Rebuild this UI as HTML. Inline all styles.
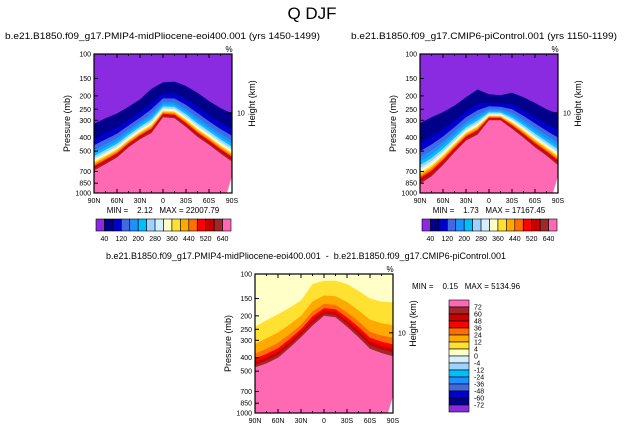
<!DOCTYPE html>
<html><head><meta charset="utf-8"><style>
body{margin:0;background:#fff;}
svg text{font-family:"Liberation Sans",sans-serif;fill:#000;white-space:pre;}
</style></head><body>
<svg id="c" width="624" height="430" viewBox="0 0 624 430" xmlns="http://www.w3.org/2000/svg">
<text x="312" y="19" font-size="17" text-anchor="middle">Q DJF</text>
</svg>
<script>
// ---- data ----
const lats = [90,75,60,45,30,15,0,-15,-30,-45,-60,-75,-90];
const latTicks = ["90N","60N","30N","0","30S","60S","90S"];
const latTickVals = [90,60,30,0,-30,-60,-90];
const presTicks = [100,150,200,250,300,400,500,700,850,1000];
// Panel A (midPliocene)
const topA = [318,290,268,240,212,178,160,158,170,190,218,245,268];
const botA = [690,620,555,470,410,370,285,290,335,395,450,520,595];
// Panel B (piControl)
const topB = [315,285,262,235,205,180,195,198,190,205,225,250,270];
const botB = [860,760,630,510,420,380,300,300,345,400,470,540,630];
// Panel C (difference)
const topC = [240,215,195,175,155,118,112,112,118,132,150,158,160];
const botC = [470,440,400,340,285,235,200,205,240,285,345,370,390];
const fracAB = [0,0.32,0.46,0.56,0.63,0.69,0.74,0.78,0.81,0.84,0.87,0.90,0.93,0.96,1.0];
const fracC = [0,0.42,0.66,0.78,0.86,0.93,1.0];
const colorsAB = ["#8A2BE2","#00008B","#0000CD","#4169E1","#1E90FF","#00BFFF","#A0D2FF","#D2F0FF","#FFFFC8","#FFE132","#FFAA00","#FF6E00","#FF0000","#C80000","#A02828","#FF69B4"];
const labelsAB = ["40","120","200","280","360","440","520","640"];
const colorsC = ["#FFFFC8","#FFE132","#FFAA00","#FF6E00","#FF0000","#C80000","#A02828","#FF69B4"];
const labelsC = ["72","60","48","36","24","12","4","0","-4","-12","-24","-36","-48","-60","-72"];
const colorsCbar = ["#FF69B4","#A02828","#C80000","#FF0000","#FF6E00","#FFAA00","#FFE132","#FFFFC8","#D2F0FF","#A0D2FF","#00BFFF","#1E90FF","#4169E1","#0000CD","#00008B","#8A2BE2"];

const NS="http://www.w3.org/2000/svg";
const svg=document.getElementById('c');
function mk(t,a,p){const e=document.createElementNS(NS,t);for(const k in a)e.setAttribute(k,a[k]);(p||svg).appendChild(e);return e;}

function panel(x0,y0,w,h,top,bot,frac,colors,name,title,tx1,tx2){
  const g=mk('g',{});
  
  
  const X=l=>x0+(90-l)/180*w;
  const Y=p=>y0+Math.log10(p/100)*h;
  mk('rect',{x:x0,y:y0,width:w,height:h,fill:colors[colors.length-1]},g);
  for(let k=frac.length-1;k>=0;k--){
    let d=`M${x0},${y0}`;
    lats.forEach((l,i)=>{
      const lp=Math.log(top[i])+frac[k]*(Math.log(bot[i])-Math.log(top[i]));
      d+=` L${X(l).toFixed(1)},${Y(Math.exp(lp)).toFixed(1)}`;
    });
    d+=` L${x0+w},${y0} Z`;
    const p=mk('path',{d:d,fill:colors[k]},g);
    
    
  }
  mk('path',{d:`M${x0+w-5},${y0+h} L${x0+w},${y0+h-17} L${x0+w},${y0+h} Z`,fill:'#fff'},g);
  mk('rect',{x:x0,y:y0,width:w,height:h,fill:'none',stroke:'#000','stroke-width':1.2},g);
  presTicks.forEach(p=>{
    const y=Y(p);
    mk('line',{x1:x0,x2:x0+4,y1:y,y2:y,stroke:'#000'},g);
    const t=mk('text',{x:x0-3,y:y+2.5,'font-size':7,'text-anchor':'end'},g);t.textContent=p;
  });
  latTickVals.forEach((l,i)=>{
    const x=X(l);
    mk('line',{x1:x,x2:x,y1:y0+h,y2:y0+h-4,stroke:'#000'},g);
    mk('line',{x1:x,x2:x,y1:y0,y2:y0+4,stroke:'#000'},g);
    const t=mk('text',{x:x,y:y0+h+10,'font-size':7,'text-anchor':'middle'},g);t.textContent=latTicks[i];
  });
  for(let l=75;l>-90;l-=15){const x=X(l);mk('line',{x1:x,x2:x,y1:y0,y2:y0+2,stroke:'#000'},g);mk('line',{x1:x,x2:x,y1:y0+h,y2:y0+h-2,stroke:'#000'},g);}
  const yh=Y(265);
  mk('line',{x1:x0+w,x2:x0+w-4,y1:yh,y2:yh,stroke:'#000'},g);
  let t=mk('text',{x:x0+w+5,y:yh+2.5,'font-size':7},g);t.textContent='10';
  t=mk('text',{x:x0+w-3,y:y0-2,'font-size':8,'text-anchor':'middle'},g);t.textContent='%';
  t=mk('text',{'font-size':9,'text-anchor':'middle',transform:`translate(${x0-24},${y0+h/2}) rotate(-90)`},g);t.textContent='Pressure (mb)';
  t=mk('text',{'font-size':9,'text-anchor':'middle',transform:`translate(${x0+w+23},${y0+h/2-20}) rotate(-90)`},g);t.textContent='Height (km)';
  t=mk('text',{x:tx1,y:y0-15,'font-size':9,textLength:tx2-tx1,lengthAdjust:'spacingAndGlyphs'},g);t.textContent=title;
  
  
  return {g,X,Y};
}

function hbar(x0,y0,name){
  const g=mk('g',{});
  
  
  const bw=135/colorsAB.length;
  colorsAB.forEach((c,i)=>mk('rect',{x:x0+i*bw,y:y0,width:bw,height:12,fill:c,stroke:'#000','stroke-width':0.6},g));
  labelsAB.forEach((s,i)=>{const t=mk('text',{x:x0+bw*(2*i+1),y:y0+22,'font-size':7,'text-anchor':'middle'},g);t.textContent=s;});
}

panel(94,54,138,139,topA,botA,fracAB,colorsAB,'panel-midpliocene','b.e21.B1850.f09_g17.PMIP4-midPliocene-eoi400.001 (yrs 1450-1499)',5,320);
let t=mk('text',{x:163,y:213,'font-size':8,'text-anchor':'middle'});t.textContent='MIN =    2.12   MAX = 22007.79';


hbar(96,219,'colorbar-midpliocene');

panel(420,54,138,139,topB,botB,fracAB,colorsAB,'panel-picontrol','b.e21.B1850.f09_g17.CMIP6-piControl.001 (yrs 1150-1199)',351,617);
t=mk('text',{x:489,y:213,'font-size':8,'text-anchor':'middle'});t.textContent='MIN =    1.73   MAX = 17167.45';


hbar(422,219,'colorbar-picontrol');

panel(255,274,138,139,topC,botC,fracC,colorsC,'panel-difference','b.e21.B1850.f09_g17.PMIP4-midPliocene-eoi400.001  -  b.e21.B1850.f09_g17.CMIP6-piControl.001',106,506);
t=mk('text',{x:412,y:289,'font-size':8});t.textContent='MIN =    0.15   MAX = 5134.96';


const vg=mk('g',{});


const bh=112/colorsCbar.length;
colorsCbar.forEach((c,i)=>mk('rect',{x:449,y:300+i*bh,width:20,height:bh,fill:c,stroke:'#000','stroke-width':0.6},vg));
labelsC.forEach((s,i)=>{const t=mk('text',{x:474,y:300+bh*(i+1)+2.5,'font-size':7},vg);t.textContent=s;});
</script>
</body></html>
